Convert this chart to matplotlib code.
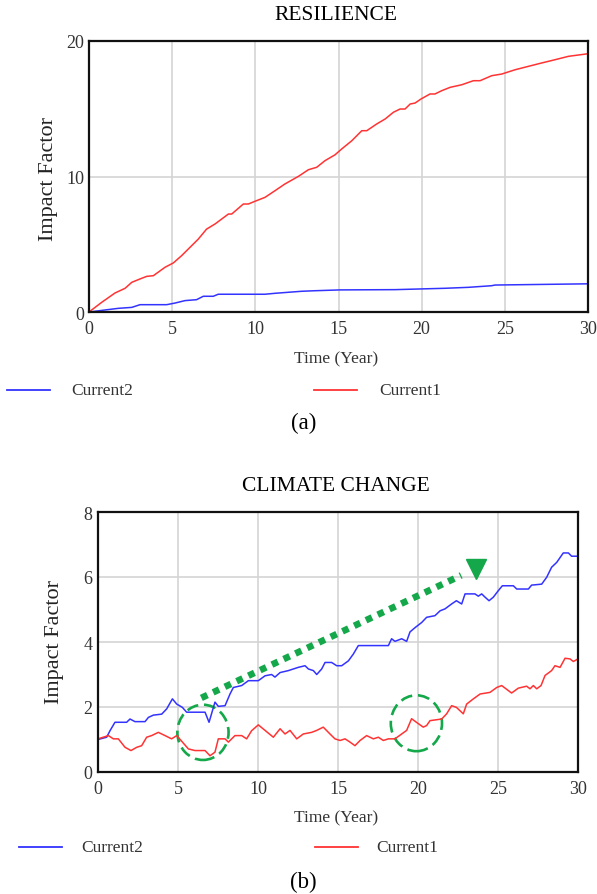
import matplotlib
matplotlib.use("Agg")
import matplotlib.pyplot as plt
from matplotlib.patches import Ellipse
from matplotlib.lines import Line2D

plt.rcParams['font.family'] = ['Liberation Serif', 'DejaVu Serif']

W, H = 597, 895

# (a) RESILIENCE
res_t1 = [0, 0.76, 1.56, 2.17, 2.57, 3.07, 3.47, 3.87, 4.57, 5.07, 5.57, 6.07, 6.57, 7.07,
          7.57, 8.38, 8.58, 9.28, 9.58, 10.08, 10.58, 11.18, 11.78, 12.59, 13.19, 13.69,
          14.19, 14.79, 15.19, 15.8, 16.4, 16.7, 17.3, 17.8, 18.3, 18.7, 19.0, 19.31, 19.6,
          19.96, 20.5, 20.8, 21.2, 21.71, 22.41, 23.11, 23.51, 24.21, 24.81, 25.62, 26.42,
          27.22, 28.02, 28.83, 30]
res_cur1 = [0, 0.71, 1.4, 1.75, 2.19, 2.44, 2.63, 2.68, 3.3, 3.62, 4.16, 4.77, 5.38, 6.12,
            6.49, 7.23, 7.23, 7.97, 7.97, 8.22, 8.46, 8.95, 9.45, 10.01, 10.5, 10.68,
            11.17, 11.6, 12.03, 12.64, 13.38, 13.38, 13.88, 14.24, 14.74, 14.98, 14.98,
            15.35, 15.42, 15.72, 16.09, 16.09, 16.33, 16.58, 16.77, 17.07, 17.07, 17.44,
            17.56, 17.88, 18.13, 18.38, 18.62, 18.87, 19.06]
res_t2 = [0, 1.76, 2.57, 3.07, 4.67, 5.17, 5.77, 6.47, 6.87, 7.47, 7.77, 10.58, 11.18,
          12.79, 13.59, 15.09, 18.4, 21.4, 22.8, 24.21, 24.41, 30]
res_cur2 = [0, 0.27, 0.34, 0.54, 0.54, 0.66, 0.84, 0.91, 1.16, 1.16, 1.31, 1.31, 1.38,
            1.53, 1.57, 1.63, 1.65, 1.75, 1.82, 1.94, 1.99, 2.08]

# (b) CLIMATE CHANGE
cc_t2 = [0, 0.54, 0.75, 1.06, 1.79, 2.0, 2.31, 2.94, 3.15, 3.46, 3.98, 4.29, 4.65, 4.92,
         5.27, 5.54, 6.06, 6.69, 6.94, 7.31, 7.52, 7.94, 8.25, 8.46, 8.98, 9.4, 10.02,
         10.44, 10.85, 11.06, 11.38, 11.9, 12.52, 12.94, 13.15, 13.46, 13.67, 13.98,
         14.19, 14.6, 14.92, 15.23, 15.65, 15.96, 16.27, 18.15, 18.35, 18.56, 18.98,
         19.29, 19.5, 19.81, 20.23, 20.54, 21.06, 21.38, 21.69, 22.1, 22.4, 22.73, 22.94,
         23.56, 23.77, 23.98, 24.19, 24.44, 24.71, 25.02, 25.27, 25.96, 26.17, 26.9, 27.1,
         27.73, 28.04, 28.35, 28.67, 29.08, 29.4, 29.6, 30]
cc_cur2 = [1.0, 1.07, 1.27, 1.53, 1.53, 1.63, 1.55, 1.55, 1.68, 1.75, 1.78, 1.94, 2.25,
           2.09, 1.99, 1.84, 1.84, 1.84, 1.53, 2.15, 2.02, 2.04, 2.4, 2.6, 2.66, 2.81,
           2.81, 2.96, 3.0, 2.92, 3.06, 3.12, 3.22, 3.27, 3.17, 3.12, 3.0, 3.17, 3.37,
           3.37, 3.27, 3.27, 3.42, 3.63, 3.89, 3.89, 4.1, 4.02, 4.1, 4.02, 4.31, 4.44,
           4.6, 4.76, 4.81, 4.96, 5.02, 5.17, 5.27, 5.17, 5.48, 5.48, 5.41, 5.48, 5.38,
           5.27, 5.38, 5.58, 5.73, 5.73, 5.63, 5.63, 5.75, 5.78, 5.99, 6.3, 6.45, 6.74,
           6.74, 6.64, 6.64]
cc_t1 = [0, 0.65, 0.96, 1.27, 1.69, 2.06, 2.42, 2.73, 3.04, 3.35, 3.77, 4.19, 4.6, 4.92,
         5.19, 5.65, 6.06, 6.69, 7.0, 7.31, 7.52, 7.94, 8.15, 8.56, 8.98, 9.29, 9.6,
         10.02, 10.44, 10.96, 11.38, 11.69, 12.0, 12.42, 12.83, 13.35, 13.67, 14.08,
         14.5, 14.81, 15.13, 15.44, 15.75, 16.06, 16.38, 16.79, 17.21, 17.52, 17.83,
         18.15, 18.56, 18.98, 19.29, 19.6, 19.9, 20.33, 20.54, 20.75, 21.48, 21.79,
         22.1, 22.4, 22.83, 23.04, 23.46, 23.88, 24.5, 24.92, 25.23, 25.85, 26.27, 26.79,
         27.0, 27.21, 27.42, 27.69, 27.94, 28.35, 28.56, 28.88, 29.19, 29.5, 29.71, 30]
cc_cur1 = [1.02, 1.12, 1.02, 1.02, 0.76, 0.66, 0.76, 0.81, 1.07, 1.12, 1.22, 1.12, 1.02,
           1.12, 0.97, 0.71, 0.66, 0.66, 0.5, 0.61, 1.02, 1.02, 0.92, 1.12, 1.12, 1.02,
           1.27, 1.45, 1.28, 1.07, 1.33, 1.17, 1.28, 1.02, 1.17, 1.22, 1.28, 1.38, 1.17,
           1.02, 0.97, 1.02, 0.92, 0.81, 0.97, 1.12, 1.02, 1.07, 0.97, 1.02, 1.02, 1.17,
           1.28, 1.64, 1.53, 1.38, 1.43, 1.58, 1.63, 1.79, 2.04, 1.99, 1.79, 2.09, 2.25,
           2.4, 2.45, 2.6, 2.66, 2.43, 2.58, 2.64, 2.56, 2.66, 2.56, 2.66, 2.97, 3.12,
           3.27, 3.22, 3.5, 3.48, 3.4, 3.48]

# annotations on (b): trend arrow and two highlighted zones
arrow_x = [6.46, 22.7]
arrow_y = [2.28, 6.05]
head_xy = (23.6, 6.25)
zones = [(6.56, 1.22, 3.2, 1.7), (19.9, 1.5, 3.2, 1.72)]

BLUE = '#3333ff'
RED = '#ff3333'
GREEN = '#14a84a'
GRID = '#d4d4d4'


def box(l, t, r, b):
    return [l / W, 1 - b / H, (r - l) / W, (b - t) / H]


def ftxt(x, y, s, **kw):
    fig.text(x / W, 1 - y / H, s, **kw)


def style(ax, xt, yt, ylim, xpad, ypad):
    ax.set_xlim(0, 30)
    ax.set_ylim(*ylim)
    ax.set_xticks(xt)
    ax.set_yticks(yt)
    ax.grid(True, color=GRID, lw=1.2)
    ax.set_axisbelow(True)
    ax.tick_params(length=0, labelsize=13, labelcolor='#333333')
    ax.tick_params(axis='x', pad=xpad)
    ax.tick_params(axis='y', pad=ypad)
    for s in ax.spines.values():
        s.set_linewidth(1.6)
        s.set_color('#111111')


def legend_row(y, x_blue, x_red, tx_blue, tx_red):
    fig.add_artist(Line2D([x_blue / W, (x_blue + 43) / W], [1 - y / H] * 2,
                          color=BLUE, lw=1.3))
    fig.add_artist(Line2D([x_red / W, (x_red + 43) / W], [1 - y / H] * 2,
                          color=RED, lw=1.3))
    ftxt(tx_blue, y, 'Current2', fontsize=12.5, color='#333333', va='center')
    ftxt(tx_red, y, 'Current1', fontsize=12.5, color='#333333', va='center')


fig = plt.figure(figsize=(W / 100, H / 100), dpi=100)

ax1 = fig.add_axes(box(89, 42, 588, 313))
ax1.plot(res_t2, res_cur2, color=BLUE, lw=1.1)
ax1.plot(res_t1, res_cur1, color=RED, lw=1.1)
style(ax1, range(0, 31, 5), [0, 10, 20], (0, 20), 5.5, 3.5)
ftxt(336, 15, 'RESILIENCE', fontsize=15.5, ha='center', va='center')
ftxt(48, 179, 'Impact Factor', fontsize=16, rotation=90, ha='center', va='center',
     color='#222222')
ftxt(336, 359, 'Time (Year)', fontsize=12.5, ha='center', va='center', color='#333333')
legend_row(391, 7, 314, 71, 379)
ftxt(304, 423, '(a)', fontsize=16.5, ha='center', va='center')

ax2 = fig.add_axes(box(98, 513, 578, 773))
ax2.plot(cc_t2, cc_cur2, color=BLUE, lw=1.1)
ax2.plot(cc_t1, cc_cur1, color=RED, lw=1.1)
ax2.plot(arrow_x, arrow_y, color=GREEN, lw=4.8, dashes=(1, 0.95), solid_capstyle='butt',
         dash_capstyle='butt')
ax2.plot([head_xy[0]], [head_xy[1]], marker='v', ms=15, color=GREEN, mec=GREEN)
for cx, cy, w, h in zones:
    ax2.add_patch(Ellipse((cx, cy), w, h, fill=False, ec=GREEN, lw=1.9,
                          linestyle=(0, (4.5, 2.2))))
style(ax2, range(0, 31, 5), [0, 2, 4, 6, 8], (0, 8), 5.5, 4)
ftxt(336, 487, 'CLIMATE CHANGE', fontsize=15.5, ha='center', va='center')
ftxt(54, 642, 'Impact Factor', fontsize=16, rotation=90, ha='center', va='center',
     color='#222222')
ftxt(336, 818, 'Time (Year)', fontsize=12.5, ha='center', va='center', color='#333333')
legend_row(848, 19, 315, 81, 376)
ftxt(303, 882, '(b)', fontsize=16.5, ha='center', va='center')

fig.savefig('out.png', dpi=100)
